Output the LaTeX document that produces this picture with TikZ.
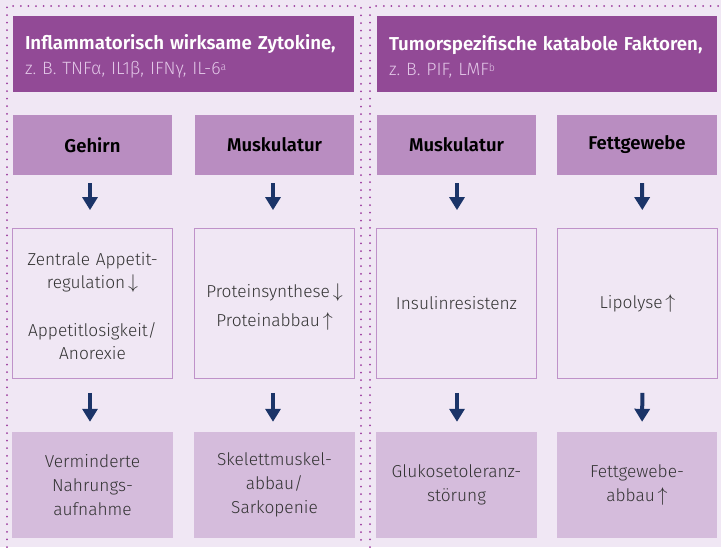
\documentclass[tikz,border=0pt]{standalone}
\usepackage{fontspec}
\IfFontExistsTF{Fira Sans Light}
  {\setmainfont{Fira Sans Light}[BoldFont={Fira Sans SemiBold}]}
  {\setmainfont{Fira Sans}}
\usetikzlibrary{arrows.meta}
\frenchspacing
\definecolor{bgcol}{HTML}{F0E7F4}
\definecolor{headcol}{HTML}{924A96}
\definecolor{headsub}{HTML}{E2C6E7}
\definecolor{organcol}{HTML}{B98DC1}
\definecolor{framecol}{HTML}{BF92C9}
\definecolor{resultcol}{HTML}{D5BCDC}
\definecolor{dotcol}{HTML}{9C3C9E}
\definecolor{arrowcol}{HTML}{1B3468}
\definecolor{txtcol}{HTML}{333333}
\newcommand{\dn}{\,\scalebox{1.15}{$\downarrow$}}
\newcommand{\up}{\,\scalebox{1.15}{$\uparrow$}}
\newcommand{\note}[1]{\raisebox{4pt}{\fontsize{10.5}{10}\selectfont #1}}
\tikzset{
  panel/.style={draw=dotcol, line width=2pt, dash pattern=on 0pt off 7.6pt, line cap=round},
  headbox/.style={fill=headcol, draw=none, minimum width=341pt, minimum height=76pt,
    text width=317pt, align=left, inner sep=12pt, text=white,
    font=\fontsize{17.8}{25}\selectfont},
  organ/.style={fill=organcol, draw=none, minimum width=159pt, minimum height=60pt,
    font=\bfseries\fontsize{18.5}{22}\selectfont, text=black},
  effect/.style={fill=bgcol, draw=framecol, line width=0.8pt, minimum width=158pt,
    minimum height=150pt, text width=154pt, align=center, text=txtcol,
    font=\fontsize{17.3}{23}\selectfont},
  result/.style={fill=resultcol, draw=none, minimum width=159pt, minimum height=106pt,
    text width=154pt, align=center, text=txtcol, font=\fontsize{17.3}{24}\selectfont},
  flow/.style={draw=arrowcol, line width=4pt, -{Triangle[width=15pt,length=13pt]}},
  flowa/.style={flow, shorten <=8pt, shorten >=18pt},
  flowb/.style={flow, shorten <=14pt, shorten >=10pt}
}
\begin{document}
\begin{tikzpicture}[x=1pt,y=-1pt]
\fill[bgcol] (0,0) rectangle (721,547);
\useasboundingbox (0,0) rectangle (721,547);

% dotted frames of the two groups
\draw[panel] (7,547) -- (7,6) -- (361,6) -- (361,547);
\draw[panel] (370,547) -- (370,6) -- (721,6);

% headers
\node[headbox] (hl) at (183.5,54) {{\bfseries\fontsize{18.7}{25}\selectfont\rule{0pt}{20pt}Inflammatorisch wirksame Zytokine,}\\
  \textcolor{headsub}{z.\ B. TNFα, IL1β, IFNγ, IL-6\note{a}}};
\node[headbox, minimum width=340pt, text width=316pt] (hr) at (547,54) {{\bfseries\fontsize{18.7}{25}\selectfont\rule{0pt}{20pt}Tumorspezifische katabole Faktoren,}\\
  \textcolor{headsub}{z.\ B. PIF, LMF\note{b}}};

% organs
\node[organ] (o1) at (92.5,145) {Gehirn};
\node[organ] (o2) at (274.5,145) {Muskulatur};
\node[organ] (o3) at (456.5,145) {Muskulatur};
\node[organ, minimum width=160pt] (o4) at (637,145) {Fettgewebe};

% effects
\node[effect] (e1) at (92.5,303.5) {\rule{0pt}{18pt}Zentrale Appetit-\\regulation\dn\\[25pt]Appetitlosigkeit/\\Anorexie};
\node[effect] (e2) at (274.5,303.5) {\rule{0pt}{20pt}Proteinsynthese\dn\\[6pt]Proteinabbau\up};
\node[effect] (e3) at (456.5,303.5) {Insulinresistenz};
\node[effect, minimum width=159pt] (e4) at (637.5,303.5) {Lipolyse\up};

% results
\node[result] (r1) at (92.5,485) {Verminderte\\Nahrungs-\\aufnahme};
\node[result] (r2) at (274.5,485) {Skelettmuskel-\\abbau/\\Sarkopenie};
\node[result] (r3) at (456.5,485) {Glukosetoleranz-\\störung};
\node[result, minimum width=160pt] (r4) at (637,485) {Fettgewebe-\\abbau\up};

% arrows between the rows
\foreach \i/\dx in {1/-2.5,2/-1.5,3/0.5,4/5}{
  \draw[flowa] ([xshift=\dx pt]o\i.south) -- ([xshift=\dx pt]e\i.north);
  \draw[flowb] ([xshift=\dx pt]e\i.south) -- ([xshift=\dx pt]r\i.north);
}
\end{tikzpicture}
\end{document}
